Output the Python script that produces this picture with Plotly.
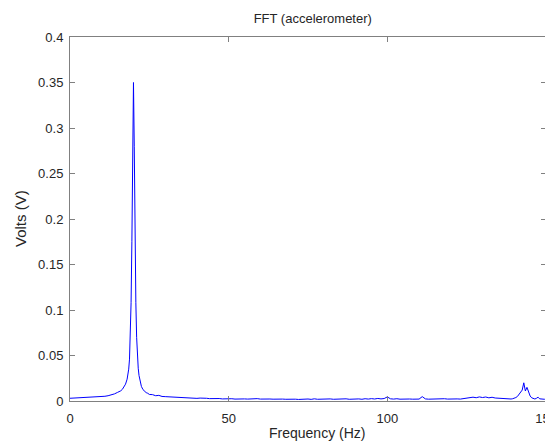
import plotly.graph_objects as go

# Frequency (Hz) and amplitude (V)
freq_low = [0, 1, 2, 3, 4, 5, 6, 7, 8, 9, 10, 11, 12, 13, 14, 15]
amp_low = [0.0030, 0.0032, 0.0029, 0.0034, 0.0031, 0.0036, 0.0034, 0.0039,
           0.0041, 0.0044, 0.0046, 0.0052, 0.0058, 0.0066, 0.0078, 0.0095]

freq_peak = [15.5, 16, 16.5, 17, 17.5, 18, 18.25, 18.5, 18.75, 19, 19.25, 19.5,
             19.75, 20, 20.25, 20.5, 20.75, 21, 21.25, 21.5, 21.75, 22, 22.5,
             23, 23.5, 24, 24.5, 25]
amp_peak = [0.0102, 0.0112, 0.0128, 0.0150, 0.0185, 0.0240, 0.0285, 0.0350,
            0.0460, 0.0700, 0.1080, 0.1750, 0.2800, 0.3500, 0.2800, 0.1750,
            0.1080, 0.0700, 0.0480, 0.0360, 0.0280, 0.0225, 0.0160, 0.0125,
            0.0105, 0.0092, 0.0085, 0.0072]

freq_mid = [26, 27, 28, 29, 30, 31, 32, 33, 34, 35, 36, 37, 38, 39, 40, 41, 42,
            43, 44, 45, 46, 47, 48, 49, 50, 51, 52, 53, 54, 55, 56, 57, 58, 59,
            60, 61, 62, 63, 64, 65, 66, 67, 68, 69, 70, 71, 72, 73, 74, 75, 76,
            77, 78, 79, 80, 81, 82, 83, 84, 85, 86, 87, 88, 89, 90, 91, 92, 93,
            94, 95, 96, 97, 98, 99, 100, 101, 102, 103, 104, 105, 106, 107, 108,
            109, 110, 111, 112, 113, 114, 115, 116, 117, 118, 119, 120, 121, 122,
            123, 124, 125, 126, 127, 128, 129, 130, 131, 132, 133, 134, 135, 136,
            137, 138, 139]
amp_mid = [0.0070, 0.0058, 0.0062, 0.0050, 0.0048, 0.0046, 0.0040, 0.0043,
           0.0037, 0.0039, 0.0034, 0.0036, 0.0031, 0.0033, 0.0029, 0.0032,
           0.0027, 0.0030, 0.0026, 0.0028, 0.0024, 0.0027, 0.0023, 0.0026,
           0.0022, 0.0025, 0.0021, 0.0024, 0.0020, 0.0023, 0.0021, 0.0024,
           0.0020, 0.0026, 0.0021, 0.0023, 0.0019, 0.0022, 0.0020, 0.0023,
           0.0018, 0.0021, 0.0019, 0.0022, 0.0018, 0.0020, 0.0017, 0.0021,
           0.0019, 0.0022, 0.0018, 0.0024, 0.0019, 0.0021, 0.0026, 0.0020,
           0.0023, 0.0019, 0.0022, 0.0018, 0.0021, 0.0024, 0.0019, 0.0022,
           0.0020, 0.0023, 0.0019, 0.0025, 0.0021, 0.0026, 0.0022, 0.0028,
           0.0023, 0.0027, 0.0045, 0.0024, 0.0021, 0.0025, 0.0020, 0.0023,
           0.0019, 0.0022, 0.0020, 0.0024, 0.0021, 0.0048, 0.0023, 0.0020,
           0.0022, 0.0019, 0.0023, 0.0020, 0.0025, 0.0021, 0.0024, 0.0020,
           0.0023, 0.0021, 0.0026, 0.0028, 0.0035, 0.0042, 0.0036, 0.0045,
           0.0038, 0.0044, 0.0035, 0.0041, 0.0033, 0.0030, 0.0026, 0.0028,
           0.0024, 0.0022]

freq_high = [139.5, 140, 140.5, 141, 141.5, 142, 142.5, 143, 143.5, 144, 144.5,
             145, 145.5, 146, 146.5, 147, 147.5, 148, 148.5, 149, 149.5, 150]
amp_high = [0.0025, 0.0030, 0.0038, 0.0050, 0.0072, 0.0085, 0.0120, 0.0200,
            0.0110, 0.0150, 0.0095, 0.0055, 0.0035, 0.0028, 0.0022, 0.0030,
            0.0042, 0.0024, 0.0020, 0.0023, 0.0019, 0.0021]

x_ticks = [0, 50, 100, 150]
y_ticks = [0, 0.05, 0.1, 0.15, 0.2, 0.25, 0.3, 0.35, 0.4]

freq = freq_low + freq_peak + freq_mid + freq_high
amp = amp_low + amp_peak + amp_mid + amp_high

FONT = "Liberation Sans, Arial, sans-serif"
TXT = "#262626"
AX = "#808080"

fig = go.Figure(go.Scatter(x=freq, y=amp, mode="lines",
                           line=dict(color="#0000ff", width=1)))

axis_common = dict(showgrid=False, zeroline=False, showline=True, mirror="ticks",
                   linecolor=AX, linewidth=1, ticks="inside", ticklen=5,
                   tickcolor=AX, tickwidth=1, automargin=False,
                   ticklabeloverflow="allow",
                   tickfont=dict(family=FONT, size=13, color=TXT))

# The page body adds an 8px offset; the figure is sized to fill the rest.
fig.update_layout(
    width=545, height=433,
    margin=dict(l=62, r=7, t=29, b=40),
    paper_bgcolor="white", plot_bgcolor="white",
    showlegend=False,
    title=dict(text="FFT (accelerometer)", xref="paper", x=0.51,
               xanchor="center", y=0.975, yanchor="middle",
               font=dict(family=FONT, size=13, color=TXT)),
    xaxis=dict(range=[0, 150], tickvals=x_ticks, ticklabelstandoff=5,
               **axis_common),
    yaxis=dict(range=[0, 0.4], tickvals=y_ticks, ticklabelstandoff=3,
               ticktext=[str(v) for v in y_ticks],
               **axis_common),
    annotations=[
        dict(text="Frequency (Hz)", xref="paper", yref="paper", x=0.519, y=0,
             xanchor="center", yanchor="middle", yshift=-32, showarrow=False,
             font=dict(family=FONT, size=14, color=TXT)),
        dict(text="Volts (V)", xref="paper", yref="paper", x=0, y=0.5,
             xanchor="center", yanchor="middle", xshift=-50, textangle=-90,
             showarrow=False, font=dict(family=FONT, size=15, color=TXT)),
    ],
)

fig.write_html("out.html")
